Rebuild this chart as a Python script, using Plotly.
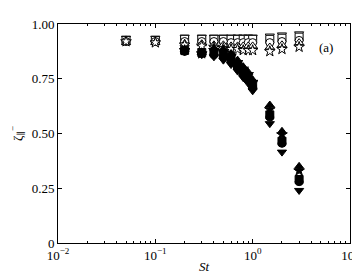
import plotly.graph_objects as go

# Stokes numbers
st_open = [0.05, 0.1, 0.2, 0.3, 0.4, 0.5, 0.6, 0.7, 0.8, 0.9, 1.0, 1.5, 2.0, 3.0]
st_filled = [0.2, 0.3, 0.4, 0.5, 0.6, 0.7, 0.8, 0.9, 1.0, 1.5, 2.0, 3.0]

# Open-symbol series
open_tri_down = [0.935, 0.935, 0.94, 0.94, 0.94, 0.94, 0.94, 0.94, 0.94, 0.94, 0.94, 0.945, 0.95, 0.955]
open_square   = [0.925, 0.925, 0.93, 0.93, 0.93, 0.93, 0.93, 0.93, 0.93, 0.93, 0.93, 0.93, 0.935, 0.94]
open_circle   = [0.92, 0.92, 0.92, 0.92, 0.92, 0.92, 0.915, 0.915, 0.915, 0.915, 0.915, 0.915, 0.92, 0.925]
open_tri_up   = [0.915, 0.915, 0.91, 0.91, 0.905, 0.905, 0.90, 0.90, 0.90, 0.90, 0.90, 0.895, 0.905, 0.915]
open_star     = [0.92, 0.915, 0.905, 0.90, 0.895, 0.89, 0.885, 0.885, 0.88, 0.88, 0.88, 0.875, 0.885, 0.895]

# Filled-symbol series
fill_tri_up   = [0.885, 0.87, 0.89, 0.885, 0.865, 0.835, 0.805, 0.78, 0.745, 0.63, 0.51, 0.35]
fill_star     = [0.88, 0.865, 0.88, 0.875, 0.855, 0.825, 0.795, 0.77, 0.735, 0.61, 0.495, 0.33]
fill_square   = [0.88, 0.87, 0.87, 0.86, 0.84, 0.81, 0.78, 0.755, 0.72, 0.585, 0.465, 0.29]
fill_circle   = [0.875, 0.865, 0.86, 0.85, 0.83, 0.80, 0.77, 0.745, 0.71, 0.575, 0.455, 0.28]
fill_tri_down = [0.875, 0.86, 0.85, 0.835, 0.815, 0.785, 0.755, 0.73, 0.695, 0.545, 0.415, 0.24]

x_tickvals = [0.01, 0.1, 1, 10]
x_ticktext = ["10<sup>−2</sup>", "10<sup>−1</sup>", "10<sup>0</sup>", "10<sup>1</sup>"]
y_tickvals = [0, 0.25, 0.5, 0.75, 1.0]
y_ticktext = ["0", "0.25", "0.50", "0.75", "1.00"]

fig = go.Figure()

def add(xs, ys, sym, filled, size=8):
    fig.add_trace(go.Scatter(
        x=xs, y=ys, mode="markers",
        marker=dict(symbol=sym, size=size,
                    color="black" if filled else "white",
                    line=dict(color="black", width=1)),
        showlegend=False, cliponaxis=False))

add(st_open, open_tri_down, "triangle-down", False)
add(st_open, open_square, "square", False)
add(st_open, open_circle, "circle", False)
add(st_open, open_tri_up, "triangle-up", False)
add(st_open, open_star, "star", False)

add(st_filled, fill_tri_up, "triangle-up", True)
add(st_filled, fill_star, "star", True)
add(st_filled, fill_square, "square", True)
add(st_filled, fill_circle, "circle", True)
add(st_filled, fill_tri_down, "triangle-down", True)

minor_vals = [m * 10.0 ** e for e in (-2, -1, 0) for m in range(2, 10)]

font = dict(family="Liberation Serif, DejaVu Serif, serif", size=13, color="black")

fig.update_layout(
    width=360, height=273,
    margin=dict(l=50, r=16, t=9, b=34),
    paper_bgcolor="white", plot_bgcolor="white",
    font=font,
    xaxis=dict(type="log", range=[-2, 1], tickvals=x_tickvals, ticktext=x_ticktext,
               ticks="inside", ticklen=4, tickcolor="black", showgrid=False, zeroline=False,
               showline=True, linecolor="black", linewidth=1, mirror="ticks",
               minor=dict(tickvals=minor_vals, ticks="inside", ticklen=2, tickcolor="black", showgrid=False),
               title=dict(text="<i>St</i>", standoff=0, font=font)),
    yaxis=dict(range=[0, 1], tickvals=y_tickvals, ticktext=y_ticktext,
               ticks="inside", ticklen=4, tickcolor="black", showgrid=False, zeroline=False,
               showline=True, linecolor="black", linewidth=1, mirror="ticks",
               title=dict(text="ζ<sub>∥</sub><sup>−</sup>", standoff=6, font=font)),
    annotations=[dict(text="(a)", x=0.95, y=0.935, xref="paper", yref="paper",
                      showarrow=False, font=font)],
)

fig.write_html("out.html")
